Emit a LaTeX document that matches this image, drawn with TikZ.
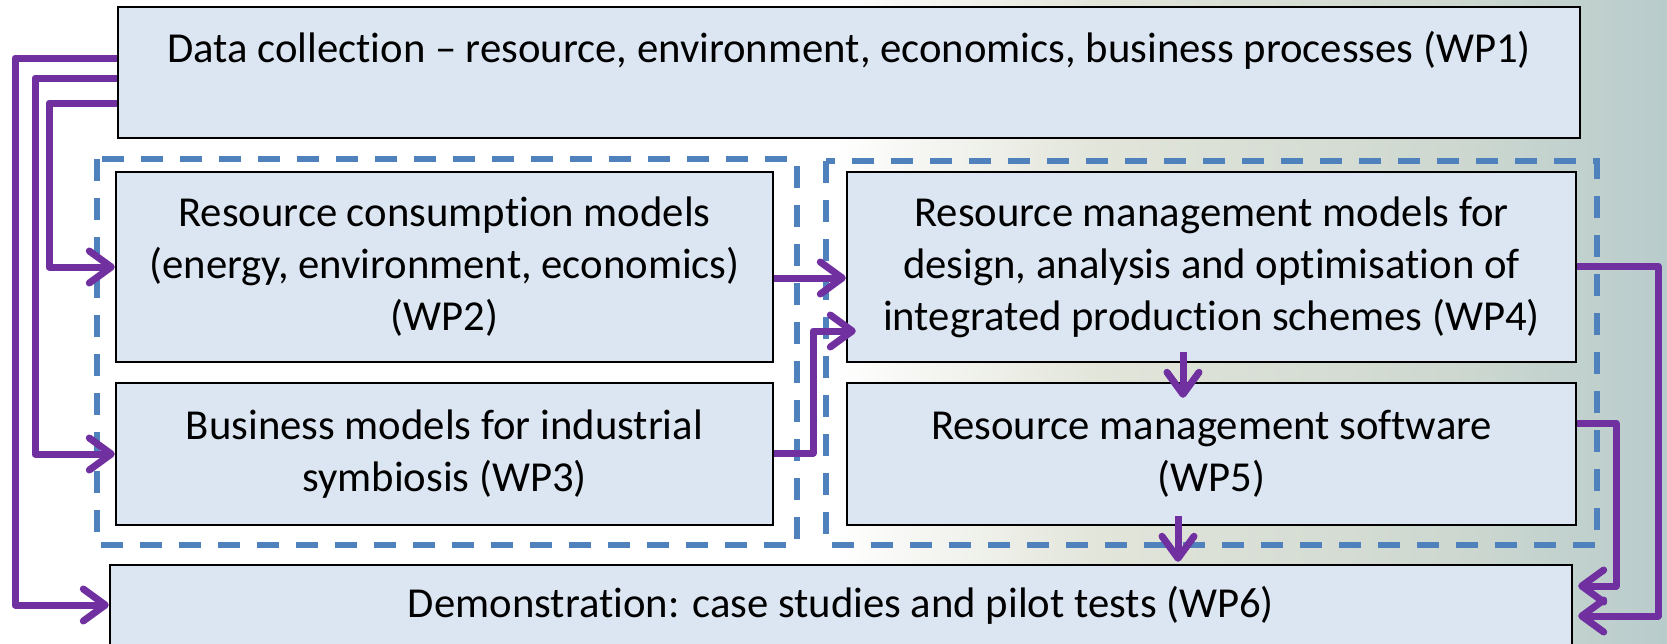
\documentclass[tikz,border=0pt]{standalone}
\usepackage{fontspec}
\setmainfont{Carlito}[Ligatures=NoCommon]
\usetikzlibrary{arrows.meta,calc}
\definecolor{boxfill}{RGB}{220,230,242}
\definecolor{arrowpurple}{RGB}{112,48,160}
\definecolor{dashblue}{RGB}{79,129,189}
\definecolor{bgA}{RGB}{226,229,218}
\definecolor{bgB}{RGB}{206,216,208}
\definecolor{bgC}{RGB}{184,204,204}
\begin{document}
\begin{tikzpicture}[x=1pt,y=-1pt,
  wpbox/.style={draw=black, line width=2.4pt, fill=boxfill, inner sep=0pt, align=center,
    font=\fontsize{42.7}{52}\selectfont},
  flow/.style={draw=arrowpurple, line width=7pt, line join=round,
    -{Straight Barb[length=22pt,width=32pt,round]}},
  groupframe/.style={draw=dashblue, line width=5.5pt, dash pattern=on 22pt off 17pt}
]
\useasboundingbox (0,0) rectangle (1667,643);
\clip (0,0) rectangle (1667,643);
% background
\fill[white] (0,0) rectangle (1667,643);
\fill[left color=white,right color=bgA] (833,0) rectangle (1100,643);
\fill[left color=bgA,right color=bgB] (1099,0) rectangle (1450,643);
\fill[left color=bgB,right color=bgC] (1449,0) rectangle (1667,643);
% dashed groups
\draw[groupframe] (97,159) rectangle (797,545);
\draw[groupframe] (826,161) rectangle (1597,545);
% boxes
\node[wpbox, minimum width=1462pt, minimum height=131pt] (wp1) at (849,72.5)
  {Data collection – resource, environment, economics, business processes (WP1)\\\mbox{}};
\node[wpbox, minimum width=657pt, minimum height=190pt] (wp2) at (444.5,267)
  {Resource consumption models\\(energy, environment, economics)\\(WP2)};
\node[wpbox, minimum width=657pt, minimum height=142pt] (wp3) at (444.5,454)
  {Business models for industrial\\symbiosis (WP3)};
\node[wpbox, minimum width=729pt, minimum height=190pt] (wp4) at (1211.5,267)
  {Resource management models for\\design, analysis and optimisation of\\integrated production schemes (WP4)};
\node[wpbox, minimum width=729pt, minimum height=142pt] (wp5) at (1211.5,454)
  {Resource management software\\(WP5)};
\node[wpbox, minimum width=1462pt, minimum height=80pt] (wp6) at (841,605)
  {Demonstration: case studies and pilot tests (WP6)};
% bend points
\coordinate (b1a) at (15,58);   \coordinate (b1b) at (15,605);
\coordinate (b2a) at (35,78);   \coordinate (b2b) at (35,454);
\coordinate (b3a) at (49,103);  \coordinate (b3b) at (49,267);
\coordinate (y4) at (0,278);
\coordinate (b5a) at (813,453); \coordinate (b5b) at (813,331);
\coordinate (x6) at (1183,0);
\coordinate (x7) at (1178,0);
\coordinate (b8a) at (1658,266); \coordinate (b8b) at (1658,616);
\coordinate (b9a) at (1616,423); \coordinate (b9b) at (1616,586);
% connectors
\draw[flow] (wp1.west |- b1a) -- (b1a) -- (b1b) -- (wp6.west);
\draw[flow] (wp1.west |- b2a) -- (b2a) -- (b2b) -- (wp3.west);
\draw[flow] (wp1.west |- b3a) -- (b3a) -- (b3b) -- (wp2.west);
\draw[flow] (wp2.east |- y4) -- (wp4.west |- y4);
\draw[flow] (wp3.east |- b5a) -- (b5a) -- (b5b) -- ($(wp4.west |- b5b)+(10,0)$);
\draw[flow] ($(wp4.south -| x6)+(0,-11)$) -- ($(wp5.north -| x6)+(0,16)$);
\draw[flow] ($(wp5.south -| x7)+(0,-10)$) -- ($(wp6.north -| x7)+(0,-2)$);
\draw[flow] (wp4.east |- b8a) -- (b8a) -- (b8b) -- ($(wp6.east |- b8b)+(5,0)$);
\draw[flow] (wp5.east |- b9a) -- (b9a) -- (b9b) -- ($(wp6.east |- b9b)+(5,0)$);
\end{tikzpicture}
\end{document}
